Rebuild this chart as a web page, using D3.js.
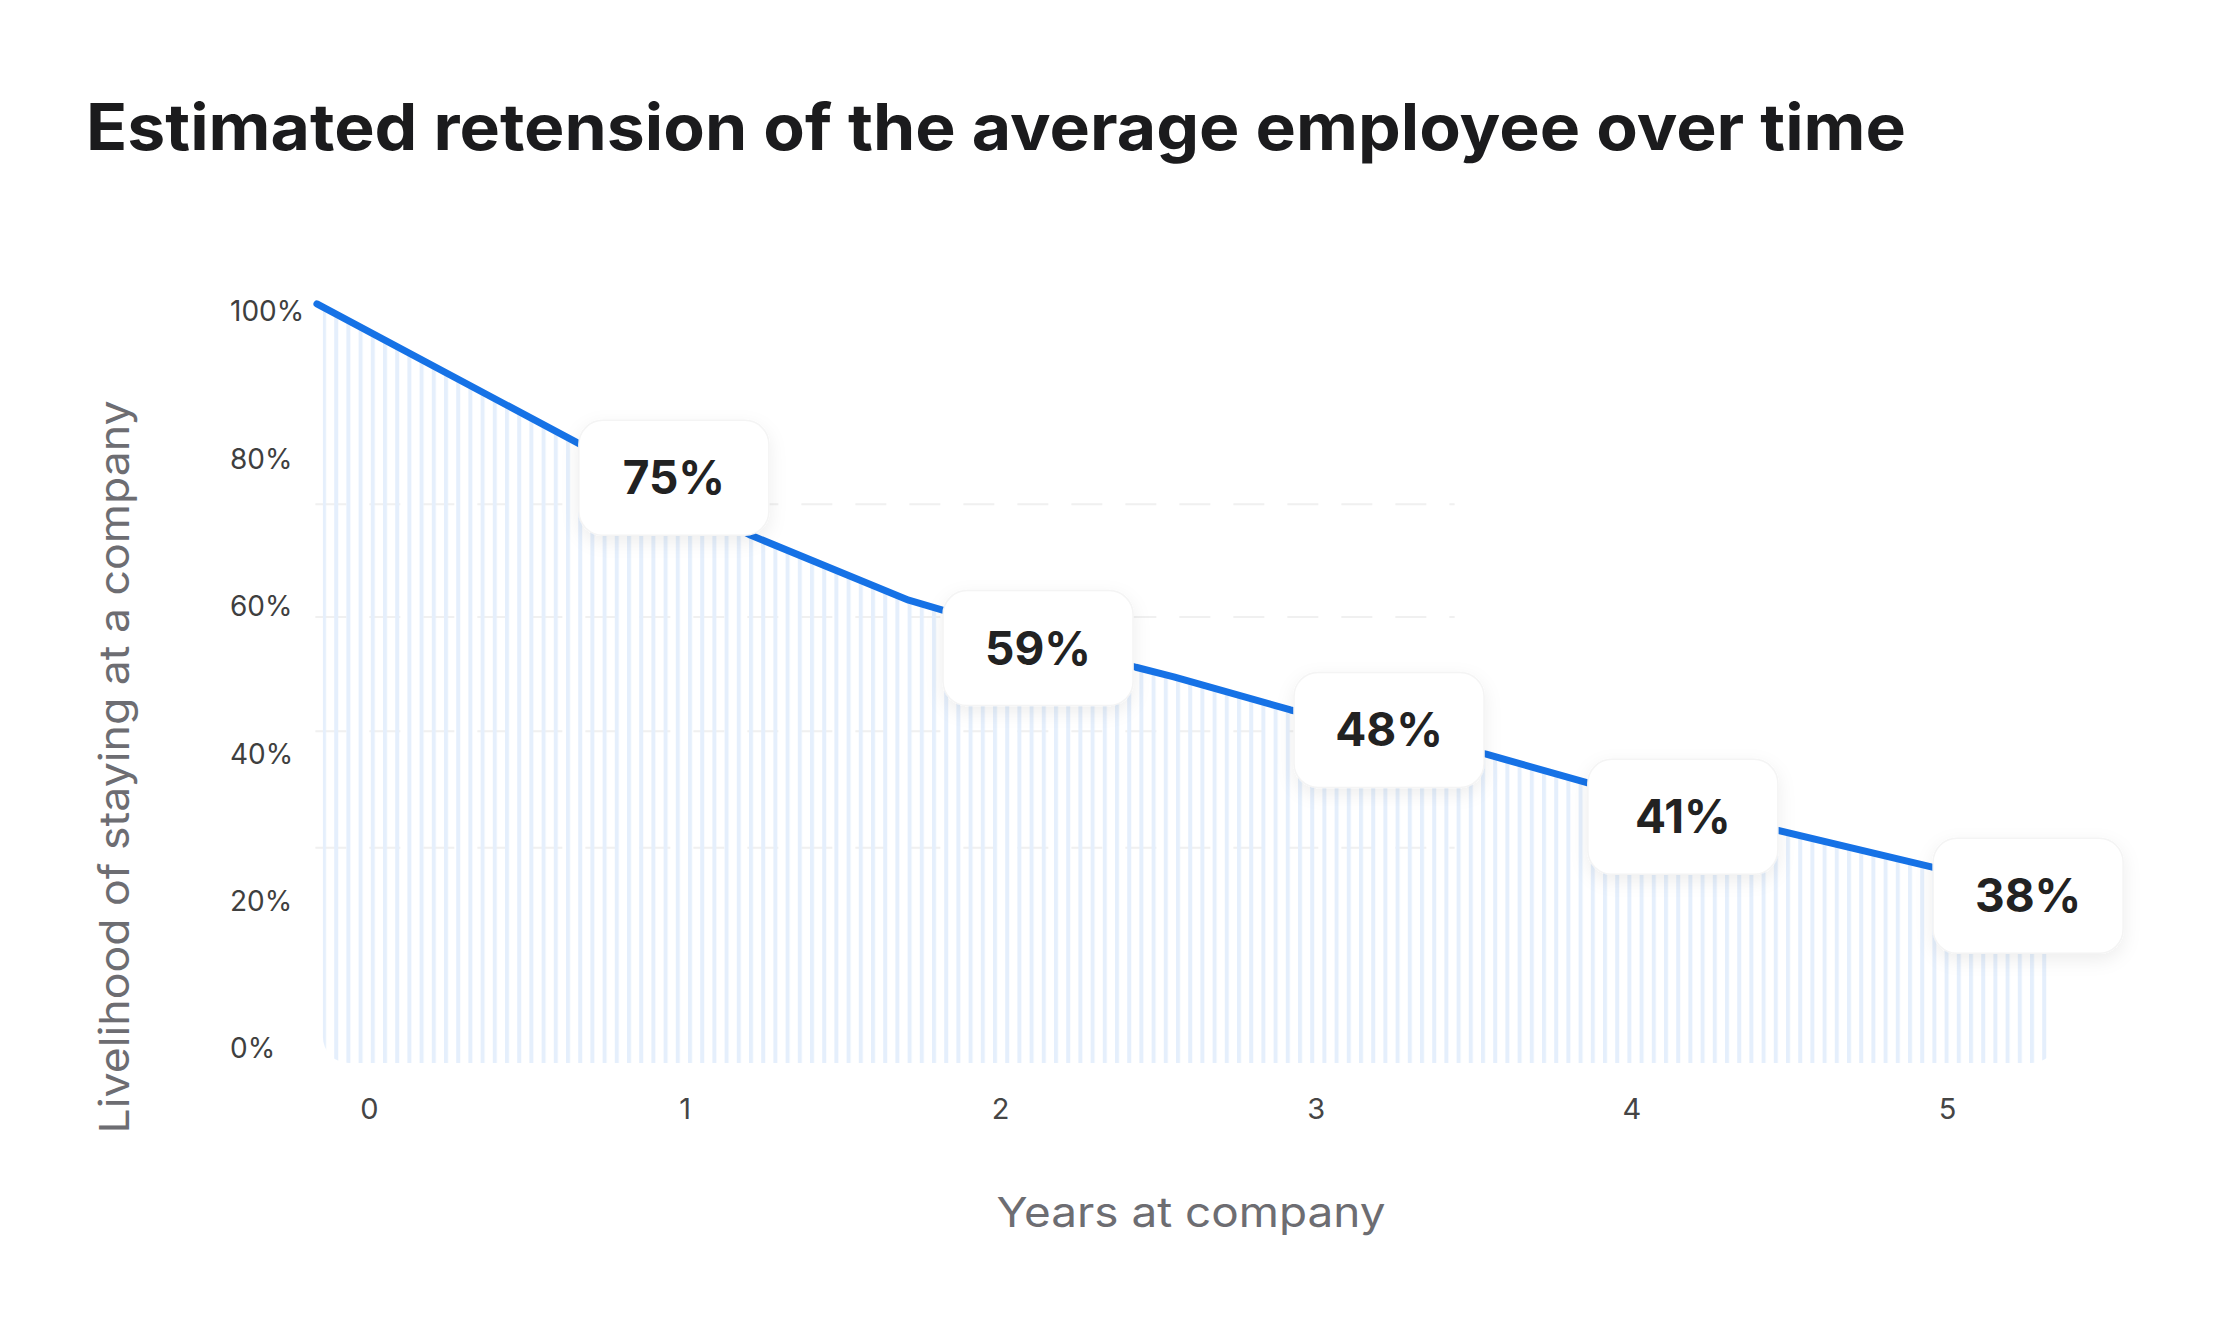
<!DOCTYPE html>
<html>
<head>
<meta charset="utf-8">
<script src="https://cdn.jsdelivr.net/npm/d3@7"></script>
<style>
  body { margin: 0; background: #fff; }
  .tick text { font-family: Inter, Roboto, sans-serif; }
</style>
</head>
<body>
<div class="dataviz"></div>
<script>
// axis ticks
const years = [0, 1, 2, 3, 4, 5]
const yTicks = [0, 20, 40, 60, 80, 100]

// retention line (years, percent)
const lineYears = [-0.165, 1.21, 1.71, 2.43, 2.55, 2.92, 3.54, 3.87, 4.46, 4.95, 5.33]
const linePct = [101.1, 69.7, 60.9, 51.8, 50.5, 46.0, 40.0, 36.0, 29.7, 24.7, 20.6]

// callout boxes
const calloutLabels = ['75%', '59%', '48%', '41%', '38%']
const calloutYears = [0.966, 2.12, 3.232, 4.163, 5.257]
const calloutPct = [77.5, 54.4, 43.3, 31.5, 20.8]

// faint dashed guide lines
const guidePct = [73.9, 58.6, 43.1, 27.3]
const guideYears = [-0.17, 3.44]

const width = 2232
const height = 1326

const svg = d3.select('.dataviz').append('svg')
  .attr('width', width)
  .attr('height', height)
  .style('display', 'block')

const defs = svg.append('defs')

// vertical stripe fill
const pattern = defs.append('pattern')
  .attr('id', 'stripes')
  .attr('patternUnits', 'userSpaceOnUse')
  .attr('x', 322)
  .attr('width', 12.2)
  .attr('height', 20)
pattern.append('rect')
  .attr('width', 4)
  .attr('height', 20)
  .attr('fill', '#e5effc')

// soft shadow for the callouts
const shadow = defs.append('filter')
  .attr('id', 'shadow')
  .attr('x', '-30%').attr('y', '-30%')
  .attr('width', '160%').attr('height', '170%')
shadow.append('feDropShadow')
  .attr('dx', 0).attr('dy', 6)
  .attr('stdDeviation', 9)
  .attr('flood-color', '#000')
  .attr('flood-opacity', 0.07)

// scales
const xScale = d3.scaleLinear().domain([0, 5]).range([369, 1947])
const yScale = d3.scaleLinear().domain([0, 100]).range([1049, 312])

const points = lineYears.map((d, i) => ({ year: d, pct: linePct[i] }))

// title
svg.append('text')
  .attr('x', 86)
  .attr('y', 150)
  .attr('font-family', 'Inter, sans-serif')
  .attr('font-weight', 700)
  .attr('font-size', 64)
  .attr('fill', '#1b1b1d')
  .attr('textLength', 1820)
  .attr('lengthAdjust', 'spacingAndGlyphs')
  .text('Estimated retension of the average employee over time')

// guide lines
svg.append('g')
  .selectAll('line')
  .data(guidePct)
  .enter()
  .append('line')
  .attr('x1', xScale(guideYears[0]))
  .attr('x2', xScale(guideYears[1]))
  .attr('y1', d => yScale(d))
  .attr('y2', d => yScale(d))
  .attr('stroke', '#f0f0f0')
  .attr('stroke-width', 2)
  .attr('stroke-dasharray', '31 23')

// striped area, clipped so the bottom-left corner is rounded
const floorY = yScale(0) + 14
defs.append('clipPath')
  .attr('id', 'areaClip')
  .append('rect')
  .attr('x', xScale(lineYears[0]) + 6)
  .attr('y', 200)
  .attr('width', xScale(lineYears[lineYears.length - 1]) - xScale(lineYears[0]))
  .attr('height', floorY - 200)
  .attr('rx', 26)

const area = d3.area()
  .x(d => xScale(d.year))
  .y0(floorY)
  .y1(d => yScale(d.pct))

svg.append('path')
  .datum(points)
  .attr('d', area)
  .attr('fill', 'url(#stripes)')
  .attr('clip-path', 'url(#areaClip)')

// line
const line = d3.line()
  .x(d => xScale(d.year))
  .y(d => yScale(d.pct))

svg.append('path')
  .datum(points)
  .attr('d', line)
  .attr('fill', 'none')
  .attr('stroke', '#1672e6')
  .attr('stroke-width', 7)
  .attr('stroke-linecap', 'round')
  .attr('stroke-linejoin', 'round')

// axes
const xAxis = svg.append('g')
  .attr('transform', `translate(0, 1109)`)
  .call(d3.axisBottom(xScale).tickValues(years).tickFormat(d3.format('d'))
    .tickSize(0).tickPadding(0))
xAxis.select('.domain').remove()
xAxis.selectAll('text')
  .attr('dy', '0.35em')
  .attr('font-size', 29)
  .attr('fill', '#454545')

const yAxis = svg.append('g')
  .attr('transform', `translate(230, 0)`)
  .call(d3.axisRight(yScale).tickValues(yTicks).tickSize(0).tickPadding(0)
    .tickFormat(d => d + '%'))
yAxis.select('.domain').remove()
yAxis.selectAll('text')
  .attr('font-size', 28)
  .attr('fill', '#3f3f3f')

// axis titles
svg.append('text')
  .attr('x', 1191)
  .attr('y', 1227)
  .attr('text-anchor', 'middle')
  .attr('font-family', 'Inter, sans-serif')
  .attr('font-size', 41)
  .attr('fill', '#6d6d72')
  .attr('textLength', 389)
  .attr('lengthAdjust', 'spacingAndGlyphs')
  .text('Years at company')

svg.append('text')
  .attr('transform', 'translate(129, 767) rotate(-90)')
  .attr('text-anchor', 'middle')
  .attr('font-family', 'Inter, sans-serif')
  .attr('font-size', 41)
  .attr('fill', '#6d6d72')
  .attr('textLength', 733)
  .attr('lengthAdjust', 'spacingAndGlyphs')
  .text('Livelihood of staying at a company')

// callouts
const boxW = 190
const boxH = 115

const callouts = svg.append('g')
  .selectAll('g')
  .data(calloutLabels.map((d, i) => ({ label: d, year: calloutYears[i], pct: calloutPct[i] })))
  .enter()
  .append('g')
  .attr('transform', d => `translate(${xScale(d.year)}, ${yScale(d.pct)})`)

callouts.append('rect')
  .attr('x', -boxW / 2)
  .attr('y', -boxH / 2)
  .attr('width', boxW)
  .attr('height', boxH)
  .attr('rx', 24)
  .attr('fill', '#fff')
  .attr('stroke', '#f4f4f4')
  .attr('stroke-width', 1.5)
  .attr('filter', 'url(#shadow)')

callouts.append('text')
  .attr('text-anchor', 'middle')
  .attr('dy', '0.36em')
  .attr('font-family', 'Inter, sans-serif')
  .attr('font-weight', 700)
  .attr('font-size', 46)
  .attr('fill', '#222')
  .text(d => d.label)
</script>
</body>
</html>
